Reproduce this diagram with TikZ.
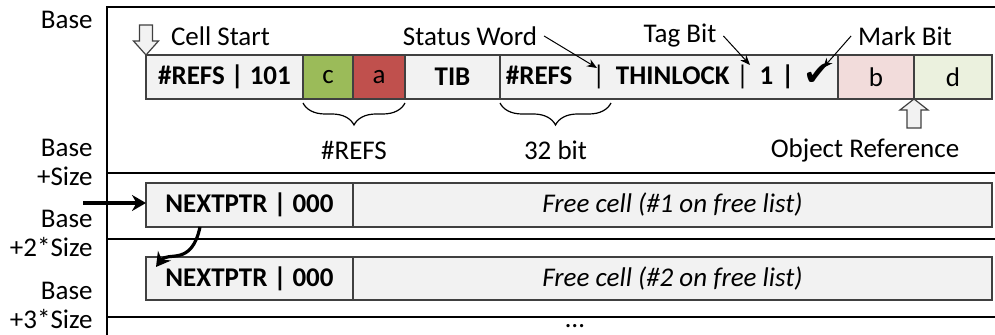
\documentclass[tikz,border=0pt]{standalone}
\usepackage{fontspec}
\setmainfont{Carlito}
\newfontfamily\symfont{DejaVu Sans}
\usepackage{xcolor}
\usepackage{tikz}
\usetikzlibrary{positioning,arrows.meta,decorations.pathreplacing}
\definecolor{cellgray}{RGB}{242,242,242}
\definecolor{celledge}{RGB}{64,64,64}
\definecolor{refgreen}{RGB}{155,187,89}
\definecolor{refred}{RGB}{192,80,77}
\definecolor{refpink}{RGB}{242,220,219}
\definecolor{refpale}{RGB}{235,241,222}
\newcommand{\lblfont}{\fontsize{13.5}{14.5}\selectfont}

\begin{document}
\begin{tikzpicture}[x=0.5pt, y=0.5pt,
 font=\lblfont,
 cell/.style={draw=celledge, fill=cellgray, line width=0.6pt,
          minimum height=22pt, inner sep=0pt, outer sep=0pt,
          font=\lblfont\bfseries},
 slot/.style={cell, font=\lblfont},
 addr/.style={anchor=east, align=right, inner sep=0pt},
 rule/.style={line width=0.8pt},
 note/.style={-{Stealth[length=5pt,width=4pt]}, line width=0.5pt},
 link/.style={-{Stealth[length=7pt,width=8pt]}, line width=1.6pt},
 hollow/.style={draw=celledge, fill=cellgray, line width=0.6pt},
 curly/.style={decorate, decoration={brace, mirror, amplitude=11pt},
          line width=0.6pt}
]
\useasboundingbox (0,0) rectangle (995,-335);
% heap frame and cell boundaries
\draw[rule] (995,-7) -- (107,-7) -- (107,-335);
\foreach \yy in {173,239,317}
  \draw[rule] (107,-\yy) -- (995,-\yy);
\node[addr] (base0) at (93,-20) {Base};
\node[addr] (base1) at (93,-162) {Base\\+Size};
\node[addr] (base2) at (93,-233) {Base\\+2*Size};
\node[addr] (base3) at (93,-305) {Base\\+3*Size};
% allocated object
\node[cell, minimum width=78.5pt, anchor=west] (refs) at (146,-77) {\#REFS | 101};
\node[slot, fill=refgreen, minimum width=25pt, right=0pt of refs] (cc) {c};
\node[slot, fill=refred, minimum width=26pt, right=0pt of cc] (ca) {a};
\node[cell, minimum width=47.5pt, right=0pt of ca] (tib) {TIB};
\node[cell, minimum width=169pt, right=0pt of tib] (status)
 {\#REFS\hspace{0.75em}\textmd{|}\hspace{0.4em}THINLOCK\hspace{0.25em}\textmd{|}\hspace{0.4em}1\hspace{0.3em}|\hspace{0.35em}\raisebox{-0.5pt}{\symfont\fontsize{17}{17}\selectfont ✔}};
\node[slot, fill=refpink, minimum width=38pt, right=0pt of status] (cb) {b};
\node[slot, fill=refpale, minimum width=39pt, right=0pt of cb] (cd) {d};
% annotations
\draw[hollow] (refs.north west) -- ++(-6.25pt,7pt) -- ++(3pt,0) -- ++(0,8pt)
 -- ++(6.5pt,0) -- ++(0,-8pt) -- ++(3pt,0) -- cycle;
\node[anchor=west] (start) at (164,-36) {Cell Start};
\node (sword) at (470,-36) {Status Word};
\node (tbit) at (680,-36) {Tag Bit};
\node (mbit) at (905,-36) {Mark Bit};
\coordinate (swpos) at (597,-68);
\coordinate (tbpos) at (750,-65);
\coordinate (mbpos) at (823,-68);
\draw[note] (sword.east) -- (swpos);
\draw[note] (tbit.east) -- (tbpos);
\draw[note] (mbit.west) -- (mbpos);
\draw[curly] ([yshift=-2pt]cc.south west) -- ([yshift=-2pt]ca.south east)
 node[midway, yshift=-23.5pt] (nrefs) {\#REFS};
\draw[curly] ([yshift=-2pt]status.south west) -- ([xshift=55.5pt,yshift=-2pt]status.south west)
 node[midway, yshift=-23.5pt] (nbits) {32 bit};
\draw[hollow] (cb.south east) -- ++(-7pt,-5.5pt) -- ++(3.5pt,0) -- ++(0,-9pt)
 -- ++(7pt,0) -- ++(0,9pt) -- ++(3.5pt,0) -- cycle;
\node (objref) at (865,-150) {Object Reference};
% free list
\node[cell, minimum width=103.5pt, anchor=west] (nextA) at (146,-205) {NEXTPTR | 000};
\node[slot, minimum width=319.5pt, right=0pt of nextA] (freeA) {\itshape Free cell (\#1 on free list)};
\node[cell, minimum width=103.5pt, minimum height=21.5pt, anchor=west] (nextB) at (146,-278.5) {NEXTPTR | 000};
\node[slot, minimum width=319.5pt, minimum height=21.5pt, right=0pt of nextB] (freeB) {\itshape Free cell (\#2 on free list)};
\coordinate (entry) at (83,-203);
\draw[link] (entry) -- ([yshift=1pt]nextA.west);
\draw[link] ([xshift=-24.75pt]nextA.south) .. controls ([xshift=-29pt,yshift=-20pt]nextA.south)
 and ([xshift=11pt,yshift=3pt]nextB.north west) .. ([xshift=5pt,yshift=-5pt]nextB.north west);
\node[anchor=base, inner sep=0pt] (more) at (575,-328) {…};
\end{tikzpicture}
\end{document}
